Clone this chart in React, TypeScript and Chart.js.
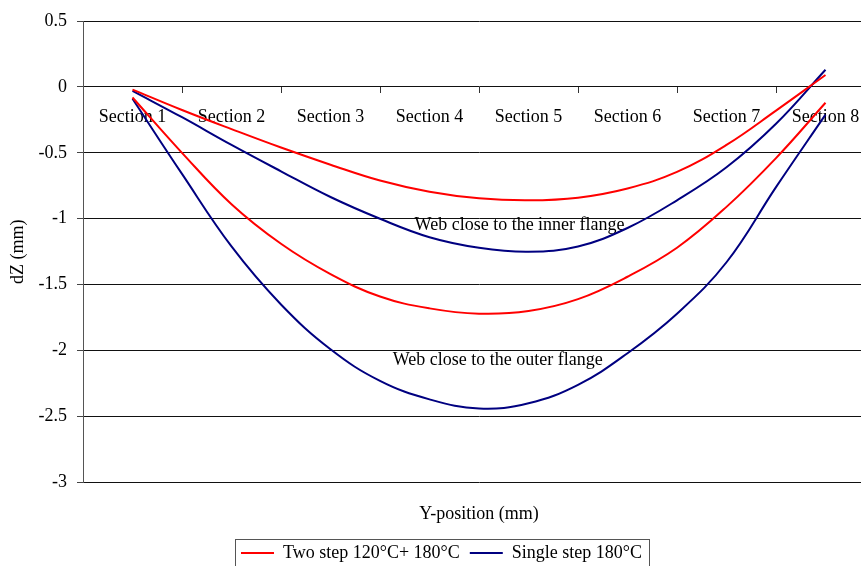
import React, { useEffect, useRef } from 'react';
import { Chart, registerables } from 'chart.js';

Chart.register(...registerables);

// ---- data ----
const xPositions = [1, 1.5, 2, 2.5, 3, 3.5, 4, 4.5, 5, 5.5, 6, 6.5, 7, 7.5, 8];
const twoStepInner = [-0.02, -0.175, -0.32, -0.46, -0.59, -0.71, -0.795, -0.845, -0.86, -0.84, -0.77, -0.645, -0.44, -0.18, 0.09];
const singleStepInner = [-0.03, -0.23, -0.44, -0.64, -0.835, -1.0, -1.14, -1.22, -1.25, -1.21, -1.07, -0.86, -0.61, -0.28, 0.13];
const twoStepOuter = [-0.08, -0.50, -0.89, -1.19, -1.42, -1.59, -1.68, -1.72, -1.70, -1.61, -1.44, -1.22, -0.91, -0.54, -0.12];
const singleStepOuter = [-0.09, -0.66, -1.21, -1.65, -1.99, -2.23, -2.37, -2.44, -2.40, -2.26, -2.02, -1.72, -1.33, -0.76, -0.21];

const seriesNames = ['Two step 120°C+ 180°C', 'Single step 180°C'];
const sectionLabels = ['Section 1', 'Section 2', 'Section 3', 'Section 4', 'Section 5', 'Section 6', 'Section 7', 'Section 8'];
const sectionCenters = [1, 2, 3, 4, 5, 6, 7, 8];
const sectionBoundaries = [1.5, 2.5, 3.5, 4.5, 5.5, 6.5, 7.5];
const yTickValues = [0.5, 0, -0.5, -1, -1.5, -2, -2.5, -3];
const yTickLabels = ['0.5', '0', '-0.5', '-1', '-1.5', '-2', '-2.5', '-3'];
const annotationTexts = ['Web close to the inner flange', 'Web close to the outer flange'];
const annotationX = [4.91, 4.69];
const annotationY = [-1.05, -2.07];

const RED = '#ff0000';
const NAVY = '#000080';
const FONT = '"Liberation Serif", "Times New Roman", serif';

const overlayPlugin = {
  id: 'overlay',
  afterLayout(chart: any) {
    const lg = chart.legend;
    if (lg) {
      lg.left += 4;
      lg.right += 4;
    }
  },
  beforeDatasetsDraw(chart: any) {
    const { ctx, scales } = chart;
    const x = scales.x;
    const y = scales.y;
    const y0 = Math.round(y.getPixelForValue(0));
    ctx.save();
    ctx.strokeStyle = '#333';
    ctx.lineWidth = 1;
    ctx.beginPath();
    sectionBoundaries.forEach((b) => {
      const px = Math.round(x.getPixelForValue(b)) + 0.5;
      ctx.moveTo(px, y0);
      ctx.lineTo(px, y0 + 6);
    });
    ctx.stroke();
    ctx.fillStyle = '#000';
    ctx.font = '18px ' + FONT;
    ctx.textAlign = 'center';
    ctx.textBaseline = 'middle';
    sectionLabels.forEach((l, i) => {
      ctx.fillText(l, x.getPixelForValue(sectionCenters[i]), y0 + 30);
    });
    annotationTexts.forEach((t, i) => {
      ctx.fillText(t, x.getPixelForValue(annotationX[i]), y.getPixelForValue(annotationY[i]));
    });
    ctx.restore();
  },
  afterDraw(chart: any) {
    const legend = chart.legend;
    if (!legend || !legend.legendHitBoxes || !legend.legendHitBoxes.length) return;
    const boxes = legend.legendHitBoxes;
    const left = boxes[0].left - 6;
    const last = boxes[boxes.length - 1];
    const right = last.left + last.width + 7;
    const cy = boxes[0].top + boxes[0].height / 2;
    const { ctx } = chart;
    ctx.save();
    ctx.strokeStyle = '#555';
    ctx.lineWidth = 1;
    ctx.strokeRect(Math.round(left) + 0.5, Math.round(cy - 14) + 0.5, Math.round(right - left), 40);
    ctx.restore();
  },
};

export default function App() {
  const ref = useRef<HTMLCanvasElement | null>(null);
  useEffect(() => {
    if (!ref.current) return;
    const mk = (label: string, data: number[], color: string) => ({
      label,
      data: xPositions.map((xv, i) => ({ x: xv, y: data[i] })),
      borderColor: color,
      backgroundColor: color,
      borderWidth: 2,
      pointRadius: 0,
      tension: 0.4,
      fill: false,
    });
    const chart = new Chart(ref.current, {
      type: 'line',
      data: {
        datasets: [
          mk(seriesNames[0], twoStepInner, RED),
          mk(seriesNames[1], singleStepInner, NAVY),
          mk(seriesNames[0], twoStepOuter, RED),
          mk(seriesNames[1], singleStepOuter, NAVY),
        ],
      },
      options: {
        responsive: false,
        animation: false,
        devicePixelRatio: 1,
        layout: { padding: { top: 21, right: 1, left: 0, bottom: 0 } },
        plugins: {
          tooltip: { enabled: false },
          legend: {
            position: 'bottom',
            labels: {
              boxWidth: 33,
              boxHeight: 2,
              padding: 10,
              color: '#000',
              font: { size: 18, family: FONT },
              generateLabels: (c: any) =>
                (Chart.defaults.plugins.legend.labels.generateLabels as any)(c)
                  .filter((it: any) => it.datasetIndex < 2)
                  .map((it: any) => ({ ...it, lineWidth: 0 })),
            },
          },
        },
        scales: {
          x: {
            type: 'linear',
            min: 0.5,
            max: 8.5,
            ticks: { display: false },
            grid: { display: false, drawTicks: false },
            border: { display: false },
            title: {
              display: true,
              text: 'Y-position (mm)',
              color: '#000',
              font: { size: 18, family: FONT },
              padding: { top: 21, bottom: 9 },
            },
          },
          y: {
            type: 'linear',
            min: -3,
            max: 0.5,
            afterBuildTicks: (s: any) => {
              s.ticks = yTickValues.map((v) => ({ value: v }));
            },
            ticks: {
              color: '#000',
              padding: 10,
              font: { size: 18, family: FONT },
              callback: (v: any) => {
                const i = yTickValues.findIndex((t) => Math.abs(t - Number(v)) < 1e-9);
                return i >= 0 ? yTickLabels[i] : '';
              },
            },
            grid: { color: '#111', tickLength: 6, tickColor: '#444' },
            border: { color: '#555' },
            title: {
              display: true,
              text: 'dZ (mm)',
              color: '#000',
              font: { size: 18, family: FONT },
              padding: { top: 7, bottom: 4 },
            },
            afterFit: (s: any) => {
              s.width = 83;
            },
          },
        },
      },
      plugins: [overlayPlugin],
    } as any);
    return () => chart.destroy();
  }, []);
  return (
    <div style={{ position: 'absolute', left: 0, top: 0, width: 861, height: 566, overflow: 'hidden', background: '#fff' }}>
      <canvas ref={ref} width={876} height={572} style={{ display: 'block' }} />
    </div>
  );
}
